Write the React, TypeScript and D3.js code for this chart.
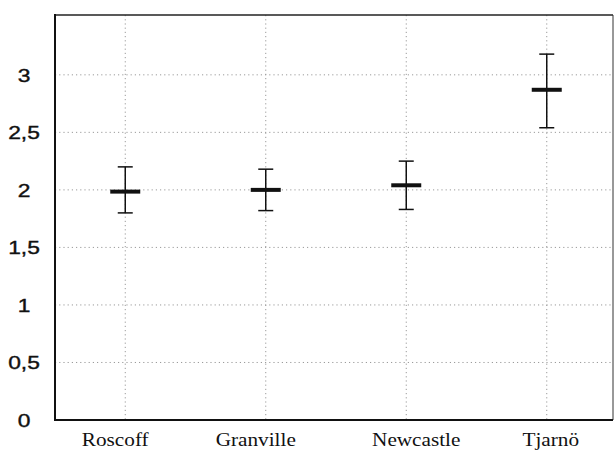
import React from "react";
import * as d3 from "d3";

const sites = ["Roscoff", "Granville", "Newcastle", "Tjarnö"];
const means = [1.985, 2.0, 2.04, 2.87];
const upper = [2.2, 2.18, 2.25, 3.18];
const lower = [1.8, 1.82, 1.83, 2.54];
const yTicks = [0, 0.5, 1, 1.5, 2, 2.5, 3];
const labelShift = [-10, -10, 10, 4]; // labels in the scan sit a bit off the marks

const W = 615;
const H = 451;
const left = 55;
const right = 613;
const top = 15;
const bottom = 420;

export default function App() {
  const x = d3.scalePoint<string>().domain(sites).range([left, 617]).padding(0.5);
  const y = d3.scaleLinear().domain([0, 3.52]).range([bottom, top]);
  const fmt = (v: number) => String(v).replace(".", ",");

  return (
    <svg width={W} height={H} style={{ position: "absolute", left: 0, top: 0, background: "#fff" }}>
      {/* dotted grid */}
      <g stroke="#9a9a9a" strokeWidth={1} strokeDasharray="1.2,3">
        {yTicks.filter((t) => t > 0).map((t) => (
          <line key={t} x1={left} x2={right} y1={y(t)} y2={y(t)} />
        ))}
        {sites.map((s) => (
          <line key={s} x1={x(s)} x2={x(s)} y1={top} y2={bottom} />
        ))}
      </g>

      {/* frame */}
      <line x1={left} x2={right} y1={top} y2={top} stroke="#222" strokeWidth={1.5} />
      <line x1={right} x2={right} y1={top} y2={bottom} stroke="#333" strokeWidth={1} />
      <line x1={left} x2={left} y1={top - 1} y2={bottom + 1} stroke="#111" strokeWidth={2} />
      <line x1={left} x2={right} y1={bottom} y2={bottom} stroke="#111" strokeWidth={2} />

      {/* y tick labels */}
      <g style={{ fontFamily: "'Liberation Sans', Arial, sans-serif", fontSize: "19px" }} fill="#111" stroke="#111" strokeWidth={0.4}>
        {yTicks.map((t) => (
          <text
            key={t}
            transform={`translate(24,${y(t) + 2}) scale(1.2,1)`}
            textAnchor="middle"
            dominantBaseline="middle"
          >
            {fmt(t)}
          </text>
        ))}
      </g>

      {/* category labels */}
      <g style={{ fontFamily: "'Liberation Serif', 'Times New Roman', serif", fontSize: "18px" }} fill="#111">
        {sites.map((s, i) => (
          <text
            key={s}
            transform={`translate(${(x(s) as number) + labelShift[i]},446) scale(1.18,1)`}
            textAnchor="middle"
          >
            {s}
          </text>
        ))}
      </g>

      {/* error bars */}
      <g stroke="#111">
        {sites.map((s, i) => {
          const cx = x(s) as number;
          return (
            <g key={s}>
              <line x1={cx} x2={cx} y1={y(upper[i])} y2={y(lower[i])} strokeWidth={1.5} />
              <line x1={cx - 7.5} x2={cx + 7.5} y1={y(upper[i])} y2={y(upper[i])} strokeWidth={1.5} />
              <line x1={cx - 7.5} x2={cx + 7.5} y1={y(lower[i])} y2={y(lower[i])} strokeWidth={1.5} />
              <line x1={cx - 15} x2={cx + 15} y1={y(means[i])} y2={y(means[i])} strokeWidth={4} />
            </g>
          );
        })}
      </g>
    </svg>
  );
}
